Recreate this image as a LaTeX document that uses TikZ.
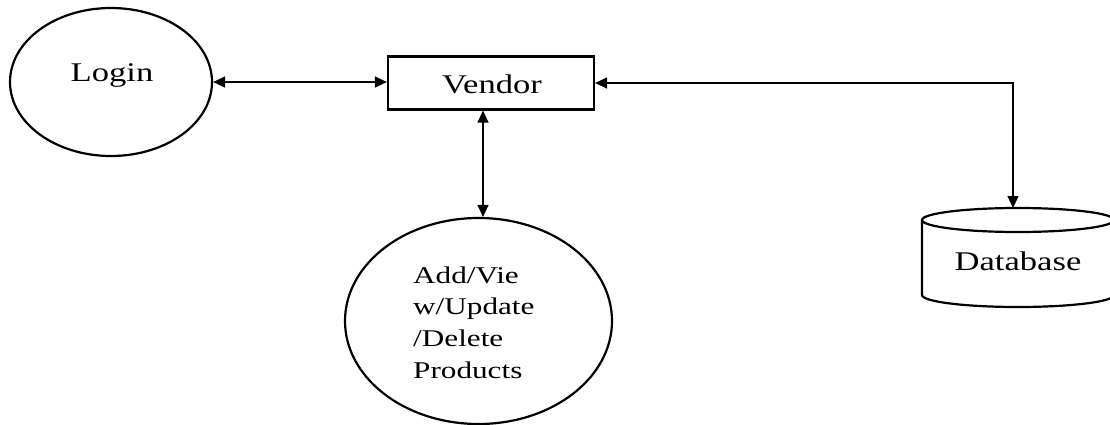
\documentclass[tikz,border=0pt]{standalone}
\usepackage{fontspec}
\setmainfont{Liberation Serif}
\usepackage{graphicx}
\usetikzlibrary{shapes.geometric,arrows.meta}
\newcommand{\wideText}[1]{\scalebox{1.28}[1]{#1}}
\tikzset{
  outline/.style={draw=black, line width=2.2pt},
  conn/.style={line width=1.3pt, {Triangle[length=12pt,width=11pt]}-{Triangle[length=12pt,width=11pt]}},
  lbl/.style={anchor=base, inner sep=0pt, font=\fontsize{27}{32}\selectfont},
}
\begin{document}
\begin{tikzpicture}[x=1pt,y=-1pt]
\useasboundingbox (0,0) rectangle (1110,425);
% Login
\node[ellipse, outline, minimum width=202pt, minimum height=148pt, inner sep=0pt] (login) at (111,82) {};
\node[lbl] (logintext) at (112,82) {\wideText{Login}};
% Vendor
\node[rectangle, outline, minimum width=206pt, minimum height=53pt, inner sep=0pt] (vendor) at (491,83) {};
\node[lbl] (vendortext) at (492,94) {\wideText{Vendor}};
% Products
\node[ellipse, outline, minimum width=267pt, minimum height=206pt, inner sep=0pt] (products) at (478.5,321) {};
\node[anchor=base west, inner sep=0pt, font=\fontsize{24}{31.7}\selectfont] (prodtext) at (413,283)
  {\scalebox{1.3}[1]{\begin{tabular}[t]{@{}l@{}}Add/Vie\\ w/Update\\ /Delete\\ Products\end{tabular}}};
% Database (cylinder)
\draw[outline] (922,220) -- (922,295) arc[start angle=180, end angle=0, x radius=96, y radius=12] -- (1114,220);
\draw[outline] (1018,220) ellipse [x radius=96, y radius=12];
\coordinate (dbtop) at (1013,208);
\node[lbl] (dbtext) at (1018,270) {\wideText{Database}};
% connectors
\coordinate (vx) at (483,0);
\draw[conn] (login.east) -- (login.east -| vendor.west);
\draw[conn] (vendor.south -| vx) -- (products.north -| vx);
\draw[conn] (vendor.east) -- (vendor.east -| dbtop) -- (dbtop);
\end{tikzpicture}
\end{document}
